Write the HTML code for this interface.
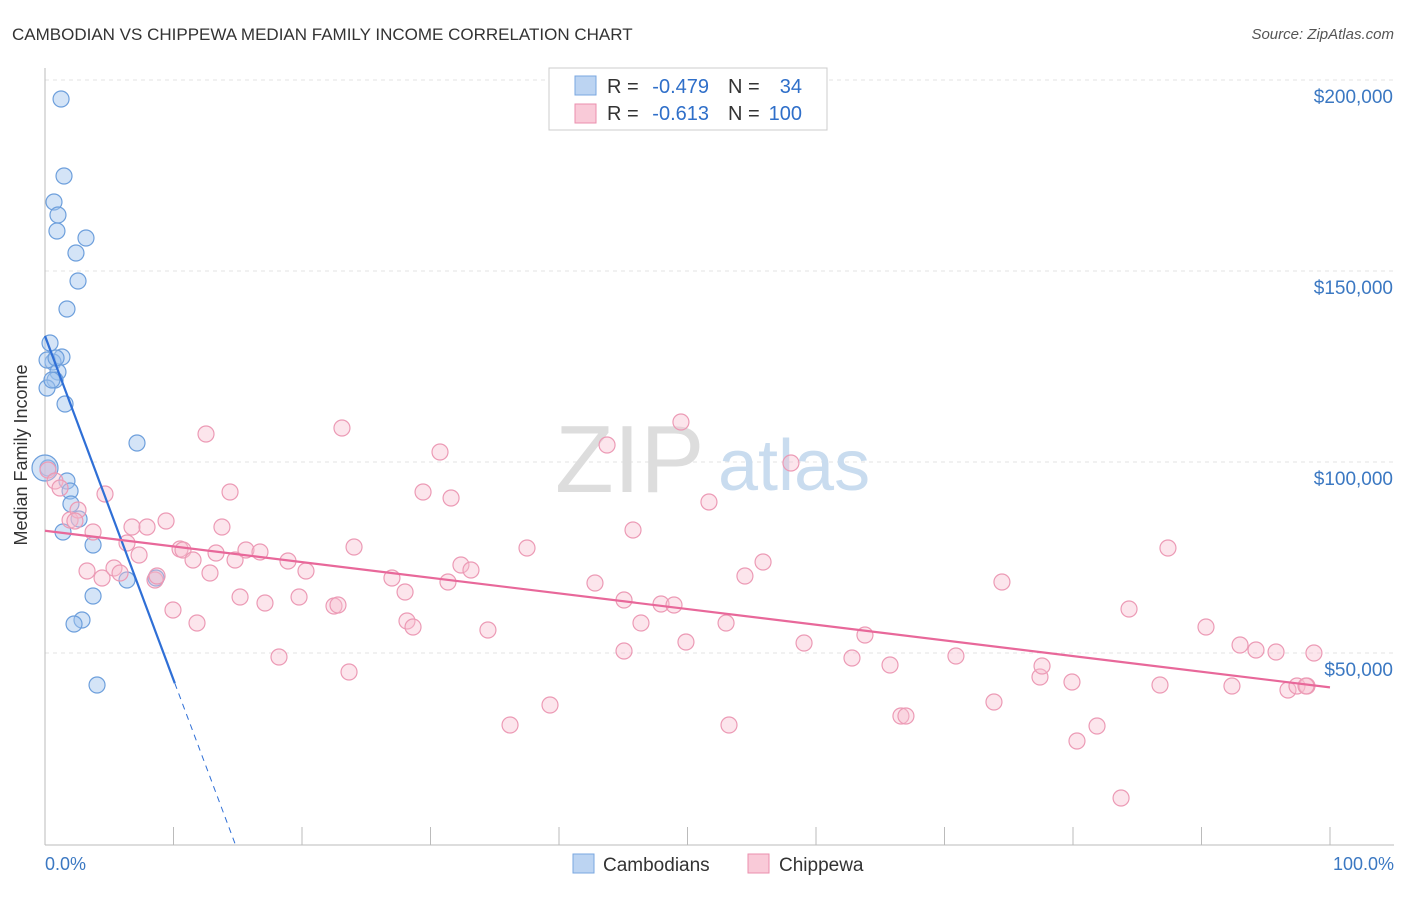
<!DOCTYPE html>
<html><head><meta charset="utf-8"><style>
body{margin:0;background:#fff;font-family:"Liberation Sans",sans-serif;}
svg text{font-family:"Liberation Sans",sans-serif;}
</style></head><body>
<svg id="chart" width="1406" height="892">
<text x="12" y="40" font-size="17" fill="#333">CAMBODIAN VS CHIPPEWA MEDIAN FAMILY INCOME CORRELATION CHART</text>
<text x="1394" y="39" font-size="15" fill="#555" text-anchor="end" font-style="italic">Source: ZipAtlas.com</text>
<g id="grid"></g>
<text x="555" y="492" font-size="96" fill="#ddd" font-family="Liberation Serif">ZIP</text>
<text x="718" y="490" font-size="72" fill="#c9dcef">atlas</text>
<g id="points"></g>
<g id="lines"></g>
<text x="27" y="455" font-size="18" fill="#333" transform="rotate(-90 27 455)" text-anchor="middle">Median Family Income</text>
<text x="45" y="870" font-size="18" fill="#3b78c2">0.0%</text>
<text x="1394" y="870" font-size="18" fill="#3b78c2" text-anchor="end">100.0%</text>
<g>
<rect x="549" y="68" width="278" height="62" fill="#fff" stroke="#ccc"/>
<rect x="575" y="76" width="21" height="19" fill="#bcd4f2" stroke="#7aa7e0"/>
<rect x="575" y="104" width="21" height="19" fill="#f9cad8" stroke="#eb8fae"/>
<text x="607" y="93" font-size="20" fill="#333">R =</text>
<text x="709" y="93" font-size="20" fill="#2f6fc9" text-anchor="end">-0.479</text>
<text x="728" y="93" font-size="20" fill="#333">N =</text>
<text x="802" y="93" font-size="20" fill="#2f6fc9" text-anchor="end">34</text>
<text x="607" y="120" font-size="20" fill="#333">R =</text>
<text x="709" y="120" font-size="20" fill="#2f6fc9" text-anchor="end">-0.613</text>
<text x="728" y="120" font-size="20" fill="#333">N =</text>
<text x="802" y="120" font-size="20" fill="#2f6fc9" text-anchor="end">100</text>
</g>
<g>
<rect x="573" y="854" width="21" height="19" fill="#bcd4f2" stroke="#7aa7e0"/>
<text x="603" y="871" font-size="19" fill="#333">Cambodians</text>
<rect x="748" y="854" width="21" height="19" fill="#f9cad8" stroke="#eb8fae"/>
<text x="779" y="871" font-size="19" fill="#333">Chippewa</text>
</g>
</svg>
<script>
const yTicks=[50000,100000,150000,200000];
const yTickLabels=["$50,000","$100,000","$150,000","$200,000"];
const bluePx=[[61,99],[64,176],[54,202],[58,215],[57,231],[86,238],[76,253],[78,281],[67,309],[50,343],[62,357],[53,362],[47,360],[58,372],[55,380],[47,388],[65,404],[137,443],[67,481],[70,491],[71,504],[79,519],[63,532],[93,545],[127,580],[156,578],[93,596],[82,620],[74,624],[97,685],[48,468],[52,380],[56,358],[45,468]];
const pinkPx=[[48,470],[55,481],[60,488],[70,520],[78,510],[75,521],[105,494],[87,571],[102,578],[93,532],[114,568],[120,573],[127,543],[132,527],[139,555],[147,527],[155,580],[157,576],[166,521],[173,610],[180,549],[183,550],[193,560],[197,623],[206,434],[210,573],[216,553],[222,527],[230,492],[235,560],[240,597],[246,550],[260,552],[265,603],[279,657],[288,561],[299,597],[306,571],[334,606],[338,605],[342,428],[349,672],[354,547],[392,578],[405,592],[407,621],[413,627],[423,492],[440,452],[451,498],[448,582],[461,565],[471,570],[488,630],[510,725],[527,548],[550,705],[595,583],[607,445],[624,651],[624,600],[633,530],[641,623],[661,604],[674,605],[681,422],[686,642],[709,502],[729,725],[726,623],[745,576],[763,562],[791,463],[804,643],[852,658],[865,635],[890,665],[901,716],[906,716],[956,656],[994,702],[1002,582],[1040,677],[1042,666],[1072,682],[1077,741],[1097,726],[1121,798],[1129,609],[1160,685],[1168,548],[1206,627],[1232,686],[1240,645],[1256,650],[1276,652],[1288,690],[1297,686],[1307,686],[1314,653],[1306,686]];
const blueX=bluePx.map(p=>+((p[0]-45)/12.85).toFixed(2));
const blueY=bluePx.map(p=>Math.round((844-p[1])/191*50000));
const pinkX=pinkPx.map(p=>+((p[0]-45)/12.85).toFixed(2));
const pinkY=pinkPx.map(p=>Math.round((844-p[1])/191*50000));
const blueTrend=[[0,133000],[10.1,42100],[14.8,0]];
const pinkTrend=[[0,82000],[100,41000]];
const X=v=>45+v*12.85, Y=v=>844-v/50000*191;
const NS="http://www.w3.org/2000/svg";
function mk(tag,attrs,parent){const e=document.createElementNS(NS,tag);for(const k in attrs)e.setAttribute(k,attrs[k]);parent.appendChild(e);return e;}
const grid=document.getElementById('grid');
yTicks.forEach((t,i)=>{
 const l=mk('line',{x1:45,x2:1394,y1:Y(t),y2:Y(t),stroke:'#e3e3e3','stroke-dasharray':'4,4'},grid);
 
 
 const tx=mk('text',{x:1393,y:Y(t)+23,'font-size':19,fill:'#3b78c2','text-anchor':'end'},grid);
 tx.textContent=yTickLabels[i];
 
 
});
mk('line',{x1:45,x2:45,y1:68,y2:845,stroke:'#bbb'},grid);
mk('line',{x1:45,x2:1394,y1:845,y2:845,stroke:'#bbb'},grid);
for(let i=0;i<=10;i++){const t=mk('line',{x1:X(i*10),x2:X(i*10),y1:827,y2:845,stroke:'#bbb'},grid);
 
 }
const pts=document.getElementById('points');
blueX.forEach((x,i)=>{const c=mk('circle',{cx:X(x),cy:Y(blueY[i]),r:i==33?13:8,fill:'rgba(160,195,238,0.45)',stroke:'#6d9fdc','stroke-width':1.2},pts);
 
 });
pinkX.forEach((x,i)=>{const c=mk('circle',{cx:X(x),cy:Y(pinkY[i]),r:8,fill:'rgba(248,190,208,0.4)',stroke:'#ec9ab5','stroke-width':1.2},pts);
 
 });
const lines=document.getElementById('lines');
const b1=mk('line',{x1:X(blueTrend[0][0]),y1:Y(blueTrend[0][1]),x2:X(blueTrend[1][0]),y2:Y(blueTrend[1][1]),stroke:'#2f6fd6','stroke-width':2.2},lines);


const b2=mk('line',{x1:X(blueTrend[1][0]),y1:Y(blueTrend[1][1]),x2:X(blueTrend[2][0]),y2:Y(blueTrend[2][1]),stroke:'#2f6fd6','stroke-width':1,'stroke-dasharray':'6,5'},lines);


const p1=mk('line',{x1:X(pinkTrend[0][0]),y1:Y(pinkTrend[0][1]),x2:X(pinkTrend[1][0]),y2:Y(pinkTrend[1][1]),stroke:'#e8689a','stroke-width':2.2},lines);


</script>
</body></html>
